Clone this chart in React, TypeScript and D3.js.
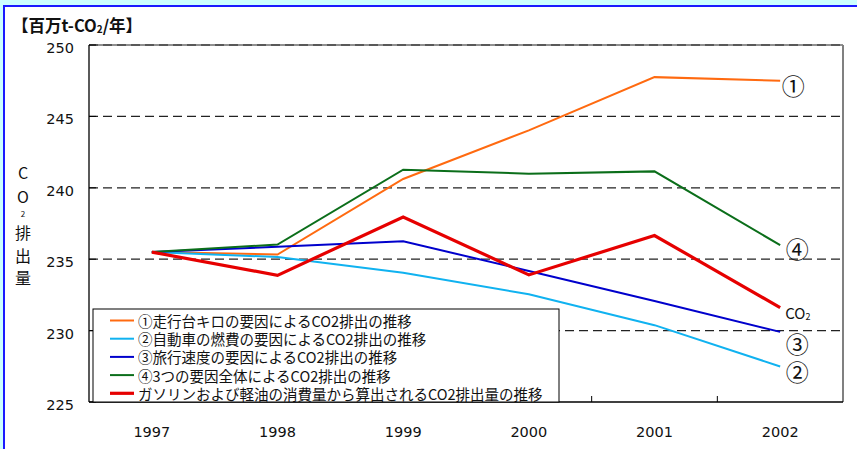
import React from "react";
import * as d3 from "d3";

const years = ["1997", "1998", "1999", "2000", "2001", "2002"];
const yTicks = [225, 230, 235, 240, 245, 250];
const gridTicks = [230, 235, 240, 245, 250];

const s1 = [235.5, 235.33, 240.62, 244.02, 247.75, 247.5];
const s2 = [235.5, 235.15, 234.05, 232.54, 230.38, 227.49];
const s3 = [235.5, 235.87, 236.26, 234.17, 232.07, 229.91];
const s4 = [235.5, 236.03, 241.27, 240.99, 241.15, 235.98];
const s5 = [235.5, 233.87, 237.96, 233.9, 236.66, 231.61];

const seriesNames = [
  "①走行台キロの要因によるCO2排出の推移",
  "②自動車の燃費の要因によるCO2排出の推移",
  "③旅行速度の要因によるCO2排出の推移",
  "④3つの要因全体によるCO2排出の推移",
  "ガソリンおよび軽油の消費量から算出されるCO2排出量の推移",
];
const endLabels = ["①", "②", "③", "④", "CO2"];

const seriesData = [s1, s2, s3, s4, s5];
const colors = ["#ff6a10", "#10b2f0", "#0000cc", "#0b6e1a", "#e60000"];
const widths = [2, 2, 2, 2, 3.2];

const W = 857;
const H = 449;
const L = 89, R = 843, T = 45, B = 402;
const JP = "'Noto Sans CJK JP', 'Noto Sans', sans-serif";
const NUM = "'DejaVu Sans', sans-serif";

export default function App() {
  const x = d3.scalePoint<string>().domain(years).range([L, R]).padding(0.5);
  const y = d3.scaleLinear().domain([225, 250]).range([B, T]);
  const step = x.step();
  const line = d3
    .line<number>()
    .x((_, i) => x(years[i]) as number)
    .y((v) => y(v));

  const lastX = x(years[years.length - 1]) as number;
  const endDx = [13, 17, 17, 17, 5];
  const endDy = [4, 5, 11, 3, 5];

  return (
    <svg
      width={W}
      height={H}
      style={{ position: "absolute", left: 0, top: 0, background: "#fff" }}
    >
      {/* frame */}
      <rect x={0} y={0} width={W} height={6} fill="#ccffff" />
      <rect x={0} y={0} width={3} height={H} fill="#ccffff" />
      <rect x={3} y={5} width={W} height={2} fill="#1a1aff" />
      <rect x={3} y={5} width={2} height={H} fill="#1a1aff" />

      {/* title */}
      <text x={12} y={25} fontFamily={JP} fontSize={16.5} fontWeight={700} dominantBaseline="central" fill="#111">
        【百万t-CO<tspan fontSize={10} dy={3}>2</tspan>
        <tspan dy={-3}>/年】</tspan>
      </text>

      {/* y axis label */}
      <g fontFamily={JP} fontSize={16} fill="#111" textAnchor="middle">
        <text x={23} y={172} dominantBaseline="central">C</text>
        <text x={23} y={196} dominantBaseline="central">O</text>
        <text x={23} y={213} fontSize={8} dominantBaseline="central">2</text>
        <text x={23} y={232} dominantBaseline="central">排</text>
        <text x={23} y={255} dominantBaseline="central">出</text>
        <text x={23} y={277} dominantBaseline="central">量</text>
      </g>

      {/* plot border (gray) */}
      <line x1={L} x2={R} y1={T} y2={T} stroke="#909090" strokeWidth={2} />
      <line x1={R} x2={R} y1={T} y2={B} stroke="#808080" strokeWidth={2} />

      {/* gridlines */}
      {gridTicks.map((t) => (
        <line
          key={t}
          x1={L}
          x2={R}
          y1={y(t)}
          y2={y(t)}
          stroke="#222"
          strokeWidth={1.2}
          strokeDasharray="9 5"
        />
      ))}

      {/* axes */}
      <line x1={L} x2={L} y1={T} y2={B} stroke="#000" strokeWidth={1.3} />
      <line x1={L} x2={R} y1={B} y2={B} stroke="#000" strokeWidth={1.3} />
      {yTicks.map((t) => (
        <line key={"yt" + t} x1={L} x2={L + 7} y1={y(t)} y2={y(t)} stroke="#000" strokeWidth={1} />
      ))}
      {years.slice(1).map((yr) => {
        const bx = (x(yr) as number) - step / 2;
        return <line key={"xt" + yr} x1={bx} x2={bx} y1={B} y2={B - 6} stroke="#000" strokeWidth={1} />;
      })}

      {/* tick labels */}
      <g fontFamily={NUM} fontSize={14.5} fill="#111">
        {yTicks.map((t) => (
          <text key={"yl" + t} x={74} y={y(t) + 3} textAnchor="end" dominantBaseline="central">
            {t}
          </text>
        ))}
        {years.map((yr) => (
          <text key={"xl" + yr} x={x(yr) as number} y={432} textAnchor="middle" dominantBaseline="central">
            {yr}
          </text>
        ))}
      </g>

      {/* series lines */}
      {seriesData.map((d, i) => (
        <path
          key={"s" + i}
          d={line(d) || ""}
          fill="none"
          stroke={colors[i]}
          strokeWidth={widths[i]}
          strokeLinejoin="miter"
        />
      ))}

      {/* end labels */}
      {seriesData.map((d, i) => {
        const yy = y(d[d.length - 1]) + endDy[i];
        if (i === 4) {
          return (
            <text key={"el" + i} x={lastX + endDx[i]} y={yy} fontFamily={JP} fontSize={15} fill="#111" dominantBaseline="central">
              CO<tspan fontSize={9} dy={3}>2</tspan>
            </text>
          );
        }
        return (
          <text
            key={"el" + i}
            x={lastX + endDx[i]}
            y={yy}
            fontFamily={JP}
            fontSize={23}
            fill="#111"
            textAnchor="middle"
            dominantBaseline="central"
          >
            {endLabels[i]}
          </text>
        );
      })}

      {/* legend */}
      <rect x={93} y={309} width={466} height={93} fill="#fff" stroke="#000" strokeWidth={1} />
      {seriesNames.map((name, i) => {
        const ly = 320.5 + i * 18.2;
        return (
          <g key={"lg" + i}>
            <line x1={110} x2={134} y1={ly} y2={ly} stroke={colors[i]} strokeWidth={i === 4 ? 3.2 : 2} />
            <text x={138} y={ly} fontFamily={JP} fontSize={14.5} fill="#111" dominantBaseline="central">
              {name}
            </text>
          </g>
        );
      })}
    </svg>
  );
}
